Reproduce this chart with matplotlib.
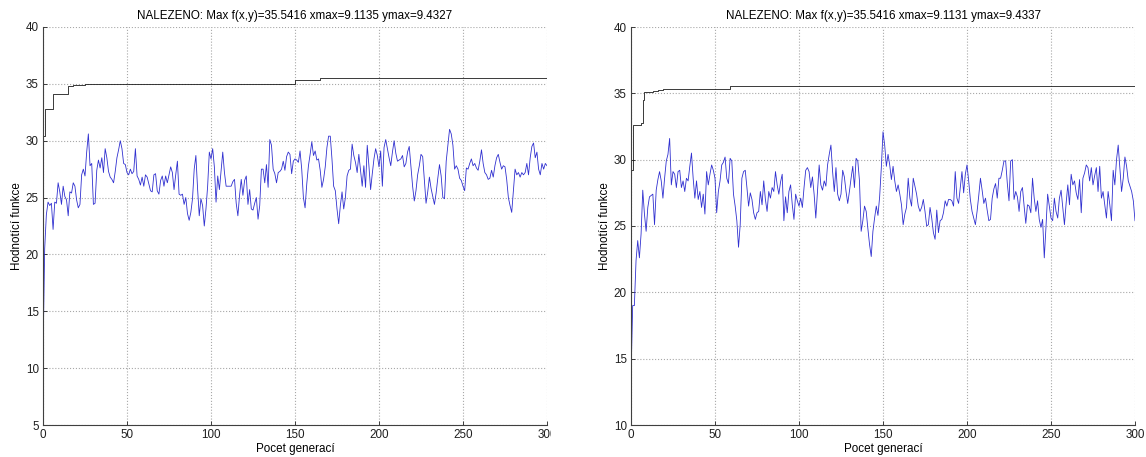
import numpy as np
import matplotlib
matplotlib.use("Agg")
import matplotlib.pyplot as plt
from matplotlib.patches import Rectangle

plt.rcParams['font.family'] = ['Liberation Sans', 'DejaVu Sans']

# mean fitness per generation, left run
mean_left = [
    11.2, 20.5, 23.5, 24.6, 24.3, 24.5, 22.2, 24.6, 24.5, 26.3,
    25.5, 24.4, 26.0, 25.1, 24.8, 23.4, 25.5, 25.4, 26.3, 26.0,
    24.8, 24.1, 24.4, 27.0, 27.5, 26.9, 29.0, 30.6, 27.8, 28.0,
    24.4, 24.5, 27.4, 28.3, 27.6, 28.5, 27.2, 29.3, 28.5, 27.3,
    26.8, 26.6, 26.3, 27.3, 28.5, 29.2, 30.0, 29.3, 28.0, 27.9,
    27.2, 27.0, 27.5, 27.1, 27.3, 29.3, 26.9, 26.6, 26.1, 26.8,
    26.0, 27.0, 26.8, 26.2, 25.6, 25.5, 27.0, 27.1, 25.6, 25.3,
    26.5, 26.9, 26.0, 26.9, 26.3, 27.0, 27.7, 27.2, 25.7, 27.0,
    28.2, 25.3, 25.2, 25.3, 24.4, 25.0, 23.6, 23.0, 23.7, 24.9,
    27.5, 28.7, 25.8, 23.4, 24.9, 24.3, 22.5, 24.0, 26.0, 29.0,
    28.4, 29.3, 27.7, 24.6, 26.9, 25.7, 27.4, 29.0, 27.2, 26.0,
    26.0, 26.0, 26.0, 26.4, 26.6, 24.5, 23.4, 25.2, 26.6, 25.2,
    26.5, 26.9, 24.4, 25.7, 24.0, 23.9, 24.5, 25.0, 23.1, 24.3,
    27.5, 27.5, 26.3, 27.9, 25.9, 30.1, 29.6, 27.5, 27.1, 26.3,
    27.2, 27.3, 27.5, 28.2, 27.4, 28.6, 29.0, 28.8, 27.1, 28.2,
    28.4, 28.3, 28.1, 29.1, 27.5, 25.0, 24.1, 26.2, 27.8, 28.8,
    29.9, 28.7, 29.1, 28.3, 28.4, 27.4, 25.9, 26.6, 27.7, 29.4,
    30.4, 30.4, 28.4, 26.0, 25.6, 24.0, 22.7, 24.3, 25.5, 24.0,
    25.0, 26.9, 27.4, 27.5, 29.7, 28.7, 28.1, 27.2, 28.8, 27.4,
    26.0, 27.8, 25.9, 29.6, 27.8, 25.7, 27.1, 28.4, 29.3, 28.7,
    27.7, 29.1, 26.0, 29.4, 30.1, 29.3, 28.5, 27.8, 29.0, 30.0,
    28.9, 28.2, 28.3, 28.4, 28.7, 27.7, 28.0, 29.0, 29.5, 27.8,
    26.0, 24.7, 25.6, 27.0, 27.8, 28.8, 28.6, 26.5, 24.5, 25.5,
    26.8, 25.8, 25.1, 24.4, 25.4, 26.7, 27.9, 26.9, 25.0, 24.9,
    28.2, 29.6, 31.0, 30.6, 29.6, 27.5, 27.8, 27.5, 26.7, 26.5,
    26.0, 25.6, 27.6, 27.5, 28.0, 28.4, 27.8, 28.0, 27.6, 27.4,
    28.2, 29.2, 28.0, 27.2, 27.0, 26.6, 26.7, 27.4, 26.8, 27.8,
    28.5, 28.8, 28.1, 27.5, 27.8, 27.7, 26.6, 25.0, 24.3, 23.7,
    25.6, 27.5, 27.0, 27.2, 26.8, 27.2, 27.0, 27.2, 28.0, 27.0,
    28.5, 29.5, 29.8, 28.5, 29.0, 27.5, 27.0, 28.0, 27.5, 28.0,
    27.8,
]

# mean fitness per generation, right run
mean_right = [
    13.6, 19.0, 19.0, 22.4, 23.9, 22.6, 24.4, 27.7, 25.9, 24.6,
    26.4, 27.2, 27.3, 27.4, 25.1, 27.7, 28.5, 29.1, 28.4, 27.1,
    28.6, 29.9, 30.4, 31.6, 28.1, 29.1, 28.9, 27.9, 29.1, 29.2,
    27.9, 28.4, 27.6, 28.6, 28.4, 29.5, 30.5, 28.6, 27.1, 28.4,
    27.0, 27.6, 26.4, 27.4, 25.9, 29.1, 28.1, 28.9, 29.6, 29.2,
    28.6, 26.0, 27.6, 28.4, 29.6, 29.8, 30.2, 28.6, 28.2, 30.1,
    29.9, 27.4, 26.5, 25.4, 23.4, 25.1, 28.6, 29.1, 29.2, 27.9,
    26.5, 27.5, 27.0, 26.0, 25.5, 26.0, 26.1, 27.6, 26.6, 28.4,
    27.0, 26.1, 27.6, 27.1, 27.9, 27.6, 29.1, 28.1, 27.4, 28.3,
    28.9, 25.4, 27.2, 26.0, 27.6, 28.1, 26.6, 25.5, 27.4, 26.9,
    26.5, 27.1, 26.4, 27.9, 29.2, 29.4, 29.1, 27.9, 28.7, 27.4,
    25.6, 27.6, 29.6, 28.1, 27.7, 28.4, 28.0, 29.6, 30.4, 31.1,
    29.1, 27.6, 29.4, 27.4, 26.9, 27.4, 29.2, 28.7, 27.6, 26.7,
    27.6, 28.6, 29.5, 27.9, 30.1, 29.9, 28.4, 24.6, 25.4, 26.5,
    26.1, 24.8, 23.6, 22.7, 24.6, 25.6, 26.5, 25.8, 27.2, 29.4,
    32.1, 31.1, 29.5, 30.4, 29.6, 28.5, 29.5, 28.4, 27.6, 28.1,
    27.4, 26.6, 25.1, 25.9, 26.4, 28.6, 27.1, 26.5, 28.6, 28.0,
    27.4, 26.5, 26.1, 26.4, 27.0, 26.1, 25.0, 25.1, 26.4, 25.6,
    24.5, 24.0, 26.2, 24.5, 25.4, 25.5, 26.0, 26.9, 26.5, 27.0,
    27.0, 26.9, 26.5, 29.1, 27.1, 26.7, 27.9, 29.1, 27.5, 28.9,
    29.6, 28.4, 27.0, 26.1, 25.6, 25.1, 26.1, 27.3, 28.6, 27.7,
    26.7, 27.1, 26.2, 25.4, 25.5, 27.1, 27.8, 28.2, 27.1, 28.6,
    28.6, 29.2, 29.9, 29.9, 28.2, 26.9, 29.9, 30.0, 27.0, 27.6,
    27.2, 26.1, 27.6, 27.9, 26.5, 25.2, 26.6, 26.5, 26.0, 28.6,
    27.1, 26.1, 26.9, 25.5, 24.9, 25.5, 22.6, 24.9, 27.4, 26.5,
    25.6, 25.4, 27.1, 26.1, 25.6, 27.1, 27.7, 26.4, 25.1, 26.7,
    28.1, 26.6, 28.9, 28.1, 28.4, 27.5, 27.0, 28.5, 26.0, 28.6,
    29.0, 29.6, 29.4, 28.4, 29.4, 28.1, 28.8, 29.4, 27.6, 29.5,
    27.1, 27.6, 26.6, 25.6, 27.6, 26.6, 25.4, 29.2, 28.1, 30.0,
    31.1, 29.4, 27.6, 28.6, 30.2, 29.5, 28.4, 28.0, 27.6, 26.9,
    25.4,
]

# best-so-far: generations where the best value changed, and the new value
best_left_gen = [0, 1, 6, 15, 18, 25, 29, 150, 165, 300]
best_left_val = [30.4, 32.8, 34.1, 34.8, 34.9, 34.95, 35.0, 35.3, 35.54, 35.54]
best_right_gen = [0, 1, 6, 7, 8, 13, 16, 19, 59, 300]
best_right_val = [29.2, 32.6, 32.8, 34.5, 35.1, 35.15, 35.25, 35.3, 35.54, 35.54]

titles = ["NALEZENO: Max f(x,y)=35.5416 xmax=9.1135 ymax=9.4327",
          "NALEZENO: Max f(x,y)=35.5416 xmax=9.1131 ymax=9.4337"]
ylims = [(5, 40), (10, 40)]

fs = 8.4
fig = plt.figure(figsize=(11.46, 4.57), dpi=100)
ax_l = fig.add_axes([43 / 1146, 1 - 425 / 457, 504 / 1146, 398 / 457])
ax_r = fig.add_axes([631 / 1146, 1 - 425 / 457, 504 / 1146, 398 / 457])

panels = [(ax_l, mean_left, best_left_gen, best_left_val),
          (ax_r, mean_right, best_right_gen, best_right_val)]

for i, (ax, mean, bgen, bval) in enumerate(panels):
    gens = np.arange(len(mean))
    ax.plot(gens, mean, color='#3030d0', lw=0.6)
    ax.step(bgen, bval, where='post', color='#1a1a1a', lw=0.6)
    ax.set_xlim(0, 300)
    ax.set_ylim(*ylims[i])
    ax.set_xticks(np.arange(0, 301, 50))
    ax.set_yticks(np.arange(ylims[i][0], 41, 5))
    ax.grid(True, linestyle=':', color='#a8a8a8', lw=0.8)
    ax.set_axisbelow(True)
    for s in ['top', 'right']:
        ax.spines[s].set_visible(False)
    for s in ['left', 'bottom']:
        ax.spines[s].set_color('#404040')
        ax.spines[s].set_linewidth(0.8)
    ax.tick_params(direction='in', length=3, width=0.6, labelsize=fs, pad=3, colors='#202020')
    ax.set_title(titles[i], fontsize=fs, pad=6)
    ax.set_xlabel('Pocet generací', fontsize=fs, labelpad=1)
    ax.set_ylabel('Hodnotící funkce', fontsize=fs, labelpad=2)

# the left panel was cut off just after its "300" label
fig.patches.append(Rectangle((551 / 1146, 0.02), 40 / 1146, 0.06,
                             transform=fig.transFigure, color='white', zorder=10))

plt.savefig('out.png', dpi=100)
